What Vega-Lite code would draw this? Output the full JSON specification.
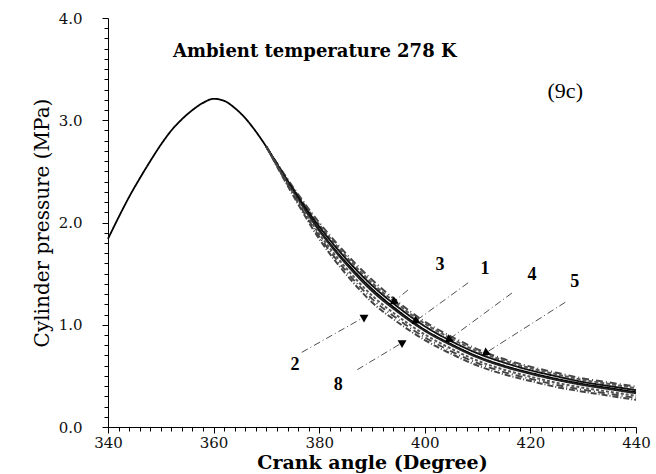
{
  "$schema": "https://vega.github.io/schema/vega-lite/v6.json",
  "autosize": {"type": "none"},
  "width": 528,
  "height": 409,
  "padding": {"left": 108, "top": 18, "right": 20, "bottom": 47},
  "background": "white",
  "config": {"view": {"stroke": null}, "font": "Liberation Serif"},
  "datasets": {
    "curves": [
      {"case": "base", "angle": 340, "pressure": 1.84},
      {"case": "base", "angle": 342, "pressure": 2.05},
      {"case": "base", "angle": 344, "pressure": 2.25},
      {"case": "base", "angle": 346, "pressure": 2.43},
      {"case": "base", "angle": 348, "pressure": 2.6},
      {"case": "base", "angle": 350, "pressure": 2.76},
      {"case": "base", "angle": 352, "pressure": 2.9},
      {"case": "base", "angle": 354, "pressure": 3.01},
      {"case": "base", "angle": 356, "pressure": 3.1},
      {"case": "base", "angle": 358, "pressure": 3.17},
      {"case": "base", "angle": 360, "pressure": 3.21},
      {"case": "base", "angle": 362, "pressure": 3.19},
      {"case": "base", "angle": 364, "pressure": 3.12},
      {"case": "base", "angle": 366, "pressure": 3.02},
      {"case": "base", "angle": 368, "pressure": 2.89},
      {"case": "base", "angle": 370, "pressure": 2.74},

      {"case": "5", "angle": 370, "pressure": 2.74},
      {"case": "5", "angle": 375, "pressure": 2.35},
      {"case": "5", "angle": 380, "pressure": 2.0},
      {"case": "5", "angle": 385, "pressure": 1.7},
      {"case": "5", "angle": 390, "pressure": 1.44},
      {"case": "5", "angle": 395, "pressure": 1.22},
      {"case": "5", "angle": 400, "pressure": 1.03},
      {"case": "5", "angle": 405, "pressure": 0.885},
      {"case": "5", "angle": 410, "pressure": 0.76},
      {"case": "5", "angle": 415, "pressure": 0.665},
      {"case": "5", "angle": 420, "pressure": 0.59},
      {"case": "5", "angle": 425, "pressure": 0.53},
      {"case": "5", "angle": 430, "pressure": 0.475},
      {"case": "5", "angle": 435, "pressure": 0.435},
      {"case": "5", "angle": 440, "pressure": 0.395},

      {"case": "4", "angle": 370, "pressure": 2.74},
      {"case": "4", "angle": 375, "pressure": 2.34},
      {"case": "4", "angle": 380, "pressure": 1.98},
      {"case": "4", "angle": 385, "pressure": 1.675},
      {"case": "4", "angle": 390, "pressure": 1.41},
      {"case": "4", "angle": 395, "pressure": 1.195},
      {"case": "4", "angle": 400, "pressure": 1.01},
      {"case": "4", "angle": 405, "pressure": 0.865},
      {"case": "4", "angle": 410, "pressure": 0.74},
      {"case": "4", "angle": 415, "pressure": 0.65},
      {"case": "4", "angle": 420, "pressure": 0.575},
      {"case": "4", "angle": 425, "pressure": 0.515},
      {"case": "4", "angle": 430, "pressure": 0.46},
      {"case": "4", "angle": 435, "pressure": 0.42},
      {"case": "4", "angle": 440, "pressure": 0.38},

      {"case": "3", "angle": 370, "pressure": 2.74},
      {"case": "3", "angle": 375, "pressure": 2.33},
      {"case": "3", "angle": 380, "pressure": 1.96},
      {"case": "3", "angle": 385, "pressure": 1.65},
      {"case": "3", "angle": 390, "pressure": 1.385},
      {"case": "3", "angle": 395, "pressure": 1.17},
      {"case": "3", "angle": 400, "pressure": 0.985},
      {"case": "3", "angle": 405, "pressure": 0.84},
      {"case": "3", "angle": 410, "pressure": 0.72},
      {"case": "3", "angle": 415, "pressure": 0.63},
      {"case": "3", "angle": 420, "pressure": 0.555},
      {"case": "3", "angle": 425, "pressure": 0.495},
      {"case": "3", "angle": 430, "pressure": 0.44},
      {"case": "3", "angle": 435, "pressure": 0.4},
      {"case": "3", "angle": 440, "pressure": 0.36},

      {"case": "1", "angle": 370, "pressure": 2.74},
      {"case": "1", "angle": 375, "pressure": 2.316},
      {"case": "1", "angle": 380, "pressure": 1.93},
      {"case": "1", "angle": 385, "pressure": 1.615},
      {"case": "1", "angle": 390, "pressure": 1.35},
      {"case": "1", "angle": 395, "pressure": 1.135},
      {"case": "1", "angle": 400, "pressure": 0.95},
      {"case": "1", "angle": 405, "pressure": 0.81},
      {"case": "1", "angle": 410, "pressure": 0.69},
      {"case": "1", "angle": 415, "pressure": 0.6},
      {"case": "1", "angle": 420, "pressure": 0.53},
      {"case": "1", "angle": 425, "pressure": 0.47},
      {"case": "1", "angle": 430, "pressure": 0.42},
      {"case": "1", "angle": 435, "pressure": 0.38},
      {"case": "1", "angle": 440, "pressure": 0.34},

      {"case": "6", "angle": 370, "pressure": 2.74},
      {"case": "6", "angle": 375, "pressure": 2.31},
      {"case": "6", "angle": 380, "pressure": 1.92},
      {"case": "6", "angle": 385, "pressure": 1.6},
      {"case": "6", "angle": 390, "pressure": 1.33},
      {"case": "6", "angle": 395, "pressure": 1.12},
      {"case": "6", "angle": 400, "pressure": 0.94},
      {"case": "6", "angle": 405, "pressure": 0.8},
      {"case": "6", "angle": 410, "pressure": 0.68},
      {"case": "6", "angle": 415, "pressure": 0.59},
      {"case": "6", "angle": 420, "pressure": 0.52},
      {"case": "6", "angle": 425, "pressure": 0.46},
      {"case": "6", "angle": 430, "pressure": 0.41},
      {"case": "6", "angle": 435, "pressure": 0.37},
      {"case": "6", "angle": 440, "pressure": 0.33},

      {"case": "7", "angle": 370, "pressure": 2.74},
      {"case": "7", "angle": 375, "pressure": 2.294},
      {"case": "7", "angle": 380, "pressure": 1.888},
      {"case": "7", "angle": 385, "pressure": 1.56},
      {"case": "7", "angle": 390, "pressure": 1.286},
      {"case": "7", "angle": 395, "pressure": 1.08},
      {"case": "7", "angle": 400, "pressure": 0.904},
      {"case": "7", "angle": 405, "pressure": 0.766},
      {"case": "7", "angle": 410, "pressure": 0.648},
      {"case": "7", "angle": 415, "pressure": 0.56},
      {"case": "7", "angle": 420, "pressure": 0.492},
      {"case": "7", "angle": 425, "pressure": 0.432},
      {"case": "7", "angle": 430, "pressure": 0.384},
      {"case": "7", "angle": 435, "pressure": 0.344},
      {"case": "7", "angle": 440, "pressure": 0.304},

      {"case": "2", "angle": 370, "pressure": 2.74},
      {"case": "2", "angle": 375, "pressure": 2.282},
      {"case": "2", "angle": 380, "pressure": 1.864},
      {"case": "2", "angle": 385, "pressure": 1.53},
      {"case": "2", "angle": 390, "pressure": 1.253},
      {"case": "2", "angle": 395, "pressure": 1.05},
      {"case": "2", "angle": 400, "pressure": 0.877},
      {"case": "2", "angle": 405, "pressure": 0.74},
      {"case": "2", "angle": 410, "pressure": 0.624},
      {"case": "2", "angle": 415, "pressure": 0.537},
      {"case": "2", "angle": 420, "pressure": 0.471},
      {"case": "2", "angle": 425, "pressure": 0.411},
      {"case": "2", "angle": 430, "pressure": 0.364},
      {"case": "2", "angle": 435, "pressure": 0.324},
      {"case": "2", "angle": 440, "pressure": 0.284},

      {"case": "8", "angle": 370, "pressure": 2.74},
      {"case": "8", "angle": 375, "pressure": 2.27},
      {"case": "8", "angle": 380, "pressure": 1.84},
      {"case": "8", "angle": 385, "pressure": 1.5},
      {"case": "8", "angle": 390, "pressure": 1.22},
      {"case": "8", "angle": 395, "pressure": 1.02},
      {"case": "8", "angle": 400, "pressure": 0.85},
      {"case": "8", "angle": 405, "pressure": 0.715},
      {"case": "8", "angle": 410, "pressure": 0.6},
      {"case": "8", "angle": 415, "pressure": 0.515},
      {"case": "8", "angle": 420, "pressure": 0.45},
      {"case": "8", "angle": 425, "pressure": 0.39},
      {"case": "8", "angle": 430, "pressure": 0.345},
      {"case": "8", "angle": 435, "pressure": 0.305},
      {"case": "8", "angle": 440, "pressure": 0.265}
    ],
    "labels": [
      {"label": "3", "tx": 402.9, "ty": 1.58, "sx": 396.8, "sy": 1.34, "ax": 394.0, "ay": 1.22, "dir": "down-left"},
      {"label": "1", "tx": 411.4, "ty": 1.55, "sx": 408.2, "sy": 1.41, "ax": 398.1, "ay": 1.03, "dir": "down-left"},
      {"label": "4", "tx": 420.3, "ty": 1.49, "sx": 416.5, "sy": 1.31, "ax": 404.4, "ay": 0.85, "dir": "down-left"},
      {"label": "5", "tx": 428.4, "ty": 1.42, "sx": 426.6, "sy": 1.22, "ax": 411.4, "ay": 0.72, "dir": "down-left"},
      {"label": "2", "tx": 375.4, "ty": 0.61, "sx": 376.7, "sy": 0.73, "ax": 388.7, "ay": 1.08, "dir": "up-right"},
      {"label": "8", "tx": 383.6, "ty": 0.41, "sx": 387.2, "sy": 0.56, "ax": 395.9, "ay": 0.83, "dir": "up-right"}
    ],
    "notes": [
      {"text": "Ambient temperature 278 K", "x": 352.3, "y": 3.67, "kind": "title"},
      {"text": "(9c)", "x": 426.6, "y": 3.29, "kind": "tag"}
    ]
  },
  "resolve": {"axis": {"x": "independent", "y": "independent"}},
  "layer": [
    {
      "data": {"name": "curves"},
      "mark": {"type": "line", "interpolate": "monotone"},
      "encoding": {
        "x": {
          "field": "angle", "type": "quantitative",
          "scale": {"domain": [340, 440], "nice": false, "zero": false},
          "axis": {
            "orient": "bottom", "values": [340, 360, 380, 400, 420, 440],
            "tickSize": 6, "tickWidth": 1,
            "title": "Crank angle (Degree)", "titleFont": "DejaVu Serif", "titleFontSize": 19,
            "titleFontWeight": "bold", "titleColor": "black", "titlePadding": 3,
            "labelFont": "DejaVu Serif", "labelFontSize": 15, "labelColor": "#111",
            "labelPadding": 2, "tickColor": "black", "domainColor": "black",
            "grid": false, "labelFlush": false
          }
        },
        "y": {
          "field": "pressure", "type": "quantitative",
          "scale": {"domain": [0, 4], "nice": false},
          "axis": {
            "orient": "left", "values": [0, 1, 2, 3, 4], "format": ".1f",
            "tickSize": 6, "tickWidth": 1,
            "title": "Cylinder pressure (MPa)", "titleFont": "DejaVu Serif", "titleFontSize": 20,
            "titleFontWeight": "normal", "titleColor": "black", "titlePadding": 6,
            "labelFont": "DejaVu Serif", "labelFontSize": 15, "labelColor": "#111",
            "labelPadding": 20, "tickColor": "black", "domainColor": "black",
            "grid": false
          }
        },
        "detail": {"field": "case"},
        "color": {
          "field": "case", "type": "nominal", "legend": null,
          "scale": {
            "domain": ["base", "1", "2", "3", "4", "5", "6", "7", "8"],
            "range": ["#000", "#000", "#444", "#111", "#555", "#444", "#222", "#555", "#444"]
          }
        },
        "strokeDash": {
          "field": "case", "type": "nominal", "legend": null,
          "scale": {
            "domain": ["base", "1", "2", "3", "4", "5", "6", "7", "8"],
            "range": [[1, 0], [1, 0], [7, 3, 1, 3], [1, 0], [4, 2], [7, 3, 1, 3], [1, 0], [3, 2], [6, 2, 1, 2]]
          }
        },
        "strokeWidth": {
          "field": "case", "type": "nominal", "legend": null,
          "scale": {
            "domain": ["base", "1", "2", "3", "4", "5", "6", "7", "8"],
            "range": [1.8, 2.0, 0.7, 0.9, 0.7, 0.7, 1.1, 0.7, 0.7]
          }
        }
      }
    },
    {
      "data": {"name": "labels"},
      "mark": {"type": "rule", "color": "#222", "strokeWidth": 0.8, "strokeDash": [7, 3, 1, 3]},
      "encoding": {
        "x": {
          "field": "sx", "type": "quantitative",
          "axis": {
            "orient": "bottom", "labels": false, "title": null, "domain": false, "grid": false,
            "tickSize": 4, "tickWidth": 1, "tickColor": "black",
            "values": [342, 344, 346, 348, 350, 352, 354, 356, 358, 362, 364, 366, 368, 370, 372, 374, 376, 378, 382, 384, 386, 388, 390, 392, 394, 396, 398, 402, 404, 406, 408, 410, 412, 414, 416, 418, 422, 424, 426, 428, 430, 432, 434, 436, 438]
          }
        },
        "y": {
          "field": "sy", "type": "quantitative",
          "axis": {
            "orient": "left", "labels": false, "title": null, "domain": false, "grid": false,
            "tickSize": 4, "tickWidth": 1, "tickColor": "black",
            "values": [0.1, 0.2, 0.3, 0.4, 0.5, 0.6, 0.7, 0.8, 0.9, 1.1, 1.2, 1.3, 1.4, 1.5, 1.6, 1.7, 1.8, 1.9, 2.1, 2.2, 2.3, 2.4, 2.5, 2.6, 2.7, 2.8, 2.9, 3.1, 3.2, 3.3, 3.4, 3.5, 3.6, 3.7, 3.8, 3.9]
          }
        },
        "x2": {"field": "ax"},
        "y2": {"field": "ay"}
      }
    },
    {
      "data": {"name": "labels"},
      "transform": [{"filter": "datum.dir === 'down-left'"}],
      "mark": {"type": "point", "shape": "triangle-up", "filled": true, "color": "black", "size": 80, "opacity": 1, "angle": 234},
      "encoding": {
        "x": {"field": "ax", "type": "quantitative", "axis": null},
        "y": {"field": "ay", "type": "quantitative", "axis": null}
      }
    },
    {
      "data": {"name": "labels"},
      "transform": [{"filter": "datum.dir === 'up-right'"}],
      "mark": {"type": "point", "shape": "triangle-up", "filled": true, "color": "black", "size": 80, "opacity": 1, "angle": 60},
      "encoding": {
        "x": {"field": "ax", "type": "quantitative", "axis": null},
        "y": {"field": "ay", "type": "quantitative", "axis": null}
      }
    },
    {
      "data": {"name": "labels"},
      "mark": {"type": "text", "font": "Liberation Serif", "fontSize": 18, "fontWeight": "bold", "color": "black", "baseline": "middle", "align": "center"},
      "encoding": {
        "x": {"field": "tx", "type": "quantitative", "axis": null},
        "y": {"field": "ty", "type": "quantitative", "axis": null},
        "text": {"field": "label"}
      }
    },
    {
      "data": {"name": "notes"},
      "transform": [{"filter": "datum.kind === 'title'"}],
      "mark": {"type": "text", "font": "DejaVu Serif", "fontSize": 18, "fontWeight": "bold", "color": "black", "baseline": "middle", "align": "left"},
      "encoding": {
        "x": {"field": "x", "type": "quantitative", "axis": null},
        "y": {"field": "y", "type": "quantitative", "axis": null},
        "text": {"field": "text"}
      }
    },
    {
      "data": {"name": "notes"},
      "transform": [{"filter": "datum.kind === 'tag'"}],
      "mark": {"type": "text", "font": "Liberation Serif", "fontSize": 22, "color": "black", "baseline": "middle", "align": "center"},
      "encoding": {
        "x": {"field": "x", "type": "quantitative", "axis": null},
        "y": {"field": "y", "type": "quantitative", "axis": null},
        "text": {"field": "text"}
      }
    }
  ]
}
